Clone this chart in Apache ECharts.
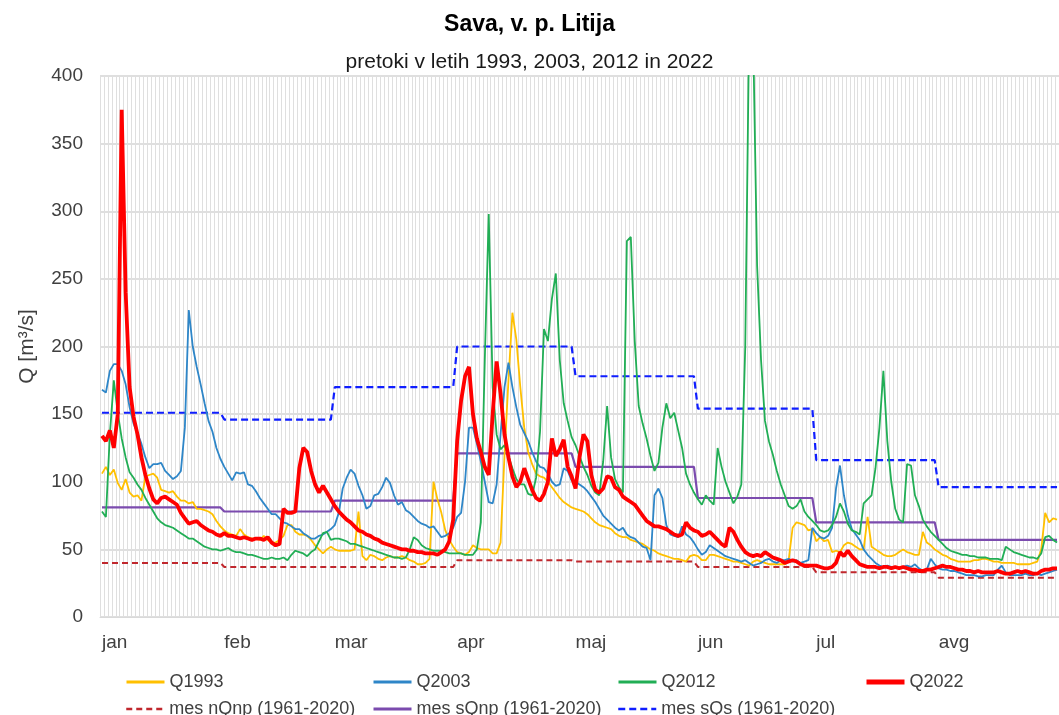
<!DOCTYPE html>
<html>
<head>
<meta charset="utf-8">
<script src="https://cdn.jsdelivr.net/npm/echarts@6/dist/echarts.min.js"></script>
<style>
html, body { margin: 0; padding: 0; background: #fff; }
#chart { width: 1059px; height: 715px; }
</style>
</head>
<body>
<div id="chart"></div>
<script>
// meseci in stevilo dni (jan - avg)
var months = ['jan', 'feb', 'mar', 'apr', 'maj', 'jun', 'jul', 'avg'];
var monthDays = [31, 28, 31, 30, 31, 30, 31, 31];

// mesecne referencne vrednosti (1961-2020)
var nQnp = [40, 37, 37, 42, 41, 37, 33, 29];
var sQnp = [81, 78, 86, 121, 111, 88, 70, 57];
var sQs = [151, 146, 170, 200, 178, 154, 116, 96];

// dnevni pretoki, vrstica = mesec
var q1993 = [
    106, 111, 105, 109, 99, 94, 102, 92, 89, 90, 86, 104, 105, 106, 103, 94, 93, 92, 93, 89, 86, 86, 84, 85, 80, 80, 79, 78, 76, 71, 67,
    64, 62, 61, 60, 65, 61, 59, 58, 58, 57, 60, 57, 55, 55, 57, 60, 68, 68, 63, 61, 61, 60, 57, 53, 50, 47, 50, 52,
    50, 49, 49, 49, 49, 50, 78, 45, 42, 46, 45, 43, 42, 44, 45, 44, 44, 45, 44, 42, 41, 39, 39, 40, 43, 100, 87, 77, 64, 57, 52,
    48, 47, 46, 48, 53, 51, 50, 50, 50, 47, 47, 55, 120, 175, 225, 205, 170, 140, 122, 113, 106, 104, 103, 100, 96, 92, 88, 85, 83, 81,
    80, 79, 78, 76, 73, 70, 68, 67, 66, 65, 62, 60, 59, 59, 57, 56, 55, 54, 52, 50, 49, 47, 46, 45, 44, 43, 43, 42, 41, 45, 46,
    45, 42, 42, 46, 46, 45, 44, 43, 42, 41, 41, 40, 39, 38, 41, 42, 41, 40, 39, 39, 39, 39, 39, 42, 66, 70, 69, 68, 64, 65,
    56, 59, 56, 57, 48, 49, 48, 53, 55, 54, 52, 50, 50, 74, 52, 50, 48, 46, 45, 45, 46, 48, 50, 48, 47, 46, 46, 63, 55, 53, 50,
    48, 46, 45, 43, 42, 41, 41, 41, 41, 42, 42, 43, 43, 42, 41, 41, 40, 40, 40, 40, 39, 39, 39, 39, 40, 41, 50, 77, 70, 73, 72
];
var q2003 = [
    168, 166, 182, 187, 187, 182, 172, 155, 143, 136, 128, 118, 110, 113, 113, 114, 108, 105, 102, 104, 108, 140, 227, 200, 185, 172, 158, 145, 137, 125, 117,
    111, 106, 101, 107, 106, 107, 98, 97, 93, 88, 84, 80, 76, 76, 73, 70, 69, 67, 65, 65, 62, 60, 58, 58, 60, 61, 63, 65,
    68, 77, 95, 103, 109, 106, 97, 90, 80, 82, 90, 91, 96, 103, 99, 90, 83, 85, 79, 77, 74, 71, 69, 68, 66, 67, 63, 59, 60, 62, 66,
    74, 77, 100, 140, 140, 128, 115, 100, 85, 84, 98, 135, 170, 188, 170, 155, 142, 136, 130, 122, 115, 111, 110, 106, 100, 97, 98, 110, 108, 101,
    100, 98, 96, 93, 89, 85, 80, 75, 72, 69, 66, 64, 66, 61, 59, 58, 55, 52, 51, 42, 90, 95, 88, 68, 61, 60, 59, 67, 61, 59, 55,
    50, 46, 48, 53, 51, 49, 47, 45, 44, 43, 42, 41, 42, 40, 38, 39, 40, 42, 43, 41, 40, 42, 42, 43, 41, 42, 40, 41, 42, 66,
    62, 59, 58, 60, 66, 95, 112, 90, 75, 65, 61, 57, 50, 46, 43, 40, 38, 37, 38, 37, 37, 36, 37, 38, 37, 39, 36, 34, 35, 43, 39,
    36, 35, 35, 34, 34, 33, 32, 31, 31, 31, 30, 30, 31, 31, 31, 35, 38, 33, 31, 31, 31, 31, 32, 31, 31, 32, 31, 32, 33, 34, 35
];
var q2012 = [
    78, 74, 135, 175, 151, 132, 118, 107, 103, 98, 94, 88, 83, 78, 73, 70, 68, 67, 66, 64, 62, 60, 58, 58, 56, 54, 52, 51, 50, 50, 49,
    50, 51, 49, 48, 48, 47, 46, 46, 45, 44, 43, 43, 44, 43, 43, 44, 42, 46, 49, 48, 47, 45, 48, 50, 56, 62, 63, 57,
    58, 58, 57, 56, 54, 54, 53, 52, 51, 50, 49, 48, 47, 46, 45, 44, 44, 43, 44, 50, 59, 57, 53, 51, 50, 49, 49, 49, 48, 47, 47,
    47, 47, 46, 46, 46, 50, 70, 190, 298, 170, 135, 124, 127, 119, 110, 102, 98, 98, 91, 90, 103, 137, 213, 204, 235, 254, 190, 158, 145, 133,
    127, 119, 111, 105, 97, 92, 90, 115, 156, 118, 102, 96, 92, 278, 281, 204, 156, 143, 132, 119, 108, 114, 140, 158, 147, 151, 138, 125, 106, 98, 92,
    87, 83, 90, 86, 83, 125, 111, 100, 92, 84, 89, 98, 200, 440, 430, 260, 190, 145, 130, 120, 108, 98, 90, 82, 80, 82, 87, 78, 74, 71,
    68, 64, 63, 64, 68, 74, 84, 78, 69, 64, 63, 61, 84, 87, 90, 110, 140, 182, 130, 100, 80, 72, 70, 113, 112, 90, 82, 72, 67, 63, 60,
    57, 54, 51, 49, 48, 47, 46, 46, 45, 45, 44, 44, 44, 43, 43, 43, 42, 52, 50, 48, 47, 46, 45, 44, 44, 43, 47, 59, 60, 57, 55
];
var q2022 = [
    134, 130, 138, 125, 150, 375, 240, 170, 148, 135, 118, 105, 95, 87, 84, 88, 89, 87, 85, 83, 77, 73, 69, 70, 71, 68, 66, 64, 63, 61, 60,
    62, 60, 60, 59, 58, 59, 58, 57, 58, 58, 57, 59, 55, 53, 54, 80, 77, 77, 78, 110, 125, 122, 108, 98, 92, 97, 92, 87,
    82, 78, 75, 72, 70, 67, 64, 63, 61, 60, 58, 57, 55, 54, 53, 52, 51, 50, 50, 49, 49, 48, 48, 47, 47, 47, 46, 48, 50, 56, 72,
    130, 160, 178, 185, 150, 132, 122, 111, 105, 150, 189, 165, 135, 118, 104, 96, 100, 110, 102, 94, 88, 86, 91, 100, 132, 119, 124, 131, 111, 104,
    95, 118, 135, 130, 105, 94, 92, 95, 104, 103, 96, 94, 89, 87, 85, 83, 79, 75, 71, 69, 67, 67, 66, 65, 63, 61, 60, 61, 70, 66, 64,
    63, 60, 61, 63, 60, 57, 54, 52, 66, 63, 57, 52, 48, 46, 45, 46, 45, 48, 46, 44, 43, 42, 40, 41, 42, 41, 39, 38, 38, 38,
    38, 37, 36, 36, 37, 40, 48, 45, 49, 45, 42, 39, 38, 37, 37, 37, 36, 37, 37, 36, 37, 36, 37, 36, 35, 35, 34, 34, 35, 35, 36,
    37, 38, 37, 37, 36, 35, 35, 34, 34, 33, 34, 33, 33, 33, 33, 34, 33, 32, 32, 33, 34, 33, 34, 33, 32, 32, 34, 35, 35, 36, 36
];

// dnevi + zacetki mesecev
var days = [];
var monthStart = {};
for (var m = 0; m < months.length; m++) {
    monthStart[days.length] = months[m];
    for (var d = 1; d <= monthDays[m]; d++) {
        days.push(d + '.' + (m + 1) + '.');
    }
}

// mesecna vrednost za vsak dan
function perDay(vals) {
    var res = [];
    for (var m = 0; m < vals.length; m++) {
        for (var d = 0; d < monthDays[m]; d++) res.push(vals[m]);
    }
    return res;
}

var font = '"Liberation Sans", Arial, sans-serif';

// vsaka legenda posebej, da so postavljene v stolpce
function legendItem(name, left, top, width) {
    return {
        data: [name],
        left: left,
        top: top,
        padding: 0,
        itemWidth: 38,
        itemHeight: 14,
        itemGap: 5,
        itemStyle: { opacity: 0 },
        lineStyle: { width: width },
        textStyle: { fontSize: 18, color: '#404040', fontFamily: font }
    };
}

function lineSeries(name, data, color, width, type, z) {
    return {
        name: name,
        type: 'line',
        data: data,
        symbol: 'none',
        z: z,
        lineStyle: { color: color, width: width, type: type },
        itemStyle: { color: color }
    };
}

var chart = echarts.init(document.getElementById('chart'));
var option = {
    animation: false,
    backgroundColor: '#fff',
    title: [{
        text: 'Sava, v. p. Litija',
        left: 'center',
        top: 8,
        textStyle: { fontSize: 23, fontWeight: 'bold', color: '#000', fontFamily: font }
    }, {
        text: 'pretoki v letih 1993, 2003, 2012 in 2022',
        left: 'center',
        top: 47,
        textStyle: { fontSize: 21, fontWeight: 'normal', color: '#1a1a1a', fontFamily: font }
    }],
    legend: [
        legendItem('Q1993', 125, 673, 3),
        legendItem('Q2003', 372, 673, 3),
        legendItem('Q2012', 617, 673, 3),
        legendItem('Q2022', 864, 673, 5),
        legendItem('mes nQnp (1961-2020)', 125, 700, 2.5),
        legendItem('mes sQnp (1961-2020)', 372, 700, 3),
        legendItem('mes sQs (1961-2020)', 617, 700, 2.5)
    ],
    grid: { left: 100, right: 0, top: 76, bottom: 98 },
    xAxis: {
        type: 'category',
        data: days,
        boundaryGap: true,
        axisTick: { show: false },
        axisLine: { lineStyle: { color: '#d9d9d9' } },
        axisLabel: {
            interval: function (i) { return monthStart[i] !== undefined; },
            formatter: function (v, i) { return monthStart[i]; },
            align: 'left',
            margin: 16,
            fontSize: 19,
            color: '#404040',
            fontFamily: font
        },
        splitLine: { show: true, interval: 0, lineStyle: { color: '#dfdfdf', width: 1 } }
    },
    yAxis: {
        type: 'value',
        min: 0,
        max: 400,
        interval: 50,
        name: 'Q [m³/s]',
        nameLocation: 'middle',
        nameGap: 62,
        nameTextStyle: { fontSize: 21, color: '#404040', fontFamily: font },
        axisLabel: { fontSize: 19, margin: 17, color: '#404040', fontFamily: font },
        axisLine: { show: false },
        axisTick: { show: false },
        splitLine: { lineStyle: { color: '#d4d4d4', width: 1.5 } }
    },
    series: [
        lineSeries('mes nQnp (1961-2020)', perDay(nQnp), '#c0272d', 2, [6, 4], 2),
        lineSeries('mes sQnp (1961-2020)', perDay(sQnp), '#7b4bae', 2.2, 'solid', 2),
        lineSeries('mes sQs (1961-2020)', perDay(sQs), '#0f1eff', 2.2, [7, 4], 2),
        lineSeries('Q1993', q1993, '#ffc000', 1.8, 'solid', 3),
        lineSeries('Q2003', q2003, '#2e86c8', 1.8, 'solid', 3),
        lineSeries('Q2012', q2012, '#21ae55', 1.8, 'solid', 3),
        lineSeries('Q2022', q2022, '#ff0000', 3.8, 'solid', 4)
    ]
};
chart.setOption(option);
</script>
</body>
</html>
